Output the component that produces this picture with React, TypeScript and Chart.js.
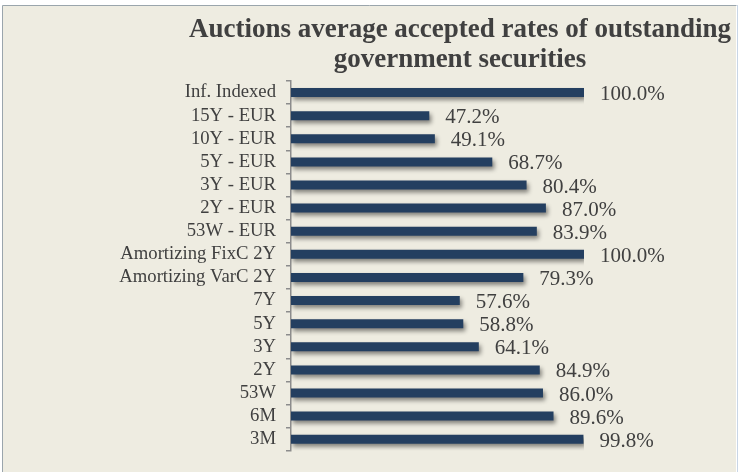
import React, { useEffect, useRef } from "react";
import { Chart, registerables } from "chart.js";

Chart.register(...registerables);

const categories = [
  "Inf. Indexed",
  "15Y - EUR",
  "10Y - EUR",
  "5Y - EUR",
  "3Y - EUR",
  "2Y - EUR",
  "53W - EUR",
  "Amortizing FixC 2Y",
  "Amortizing VarC 2Y",
  "7Y",
  "5Y",
  "3Y",
  "2Y",
  "53W",
  "6M",
  "3M",
];

const rates = [100.0, 47.2, 49.1, 68.7, 80.4, 87.0, 83.9, 100.0, 79.3, 57.6, 58.8, 64.1, 84.9, 86.0, 89.6, 99.8];

const titleLines = ["Auctions average accepted rates of outstanding", "government securities"];

const W = 739;
const H = 472;
const BG = "#EEECE1";
const TEXT = "#404040";
const BAR = "#243F60";

const backgroundPlugin = {
  id: "bgPlugin",
  beforeDraw(chart: any) {
    const ctx = chart.ctx;
    ctx.save();
    ctx.fillStyle = "#FFFFFF";
    ctx.fillRect(0, 0, W, H);
    ctx.fillStyle = BG;
    ctx.fillRect(3, 5, 733, H - 5);
    ctx.strokeStyle = "#9AA5AC";
    ctx.lineWidth = 1;
    ctx.beginPath();
    ctx.moveTo(2.5, H);
    ctx.lineTo(2.5, 5.5);
    ctx.lineTo(736.5, 5.5);
    ctx.stroke();
    ctx.strokeStyle = "#C9D6E6";
    ctx.beginPath();
    ctx.moveTo(737.5, 5);
    ctx.lineTo(737.5, H);
    ctx.stroke();
    ctx.restore();
  },
  afterDraw(chart: any) {
    const ctx = chart.ctx;
    ctx.save();
    ctx.fillStyle = TEXT;
    ctx.font = "bold 27px 'Liberation Serif'";
    ctx.textAlign = "center";
    ctx.textBaseline = "alphabetic";
    ctx.fillText(titleLines[0], 460, 37);
    ctx.fillText(titleLines[1], 460, 67);
    ctx.restore();
  },
};

const shadowLabelPlugin = {
  id: "shadowLabels",
  beforeDatasetsDraw(chart: any) {
    const ctx = chart.ctx;
    ctx.save();
    ctx.shadowColor = "rgba(0,0,0,0.45)";
    ctx.shadowBlur = 4;
    ctx.shadowOffsetX = 2;
    ctx.shadowOffsetY = 3;
  },
  afterDatasetsDraw(chart: any) {
    const ctx = chart.ctx;
    ctx.restore();
    const meta = chart.getDatasetMeta(0);
    ctx.save();
    ctx.fillStyle = TEXT;
    ctx.font = "21px 'Liberation Serif'";
    ctx.textAlign = "left";
    ctx.textBaseline = "alphabetic";
    meta.data.forEach((el: any, i: number) => {
      const v = chart.data.datasets[0].data[i] as number;
      ctx.fillText(v.toFixed(1) + "%", el.x + 16, el.y + 7.5);
    });
    ctx.restore();
  },
};

export default function App() {
  const ref = useRef<HTMLCanvasElement>(null);
  useEffect(() => {
    if (!ref.current) return;
    const chart = new Chart(ref.current, {
      type: "bar",
      data: {
        labels: categories,
        datasets: [
          {
            data: rates,
            backgroundColor: BAR,
            borderWidth: 0,
            categoryPercentage: 1,
            barPercentage: 0.39,
          },
        ],
      },
      options: {
        indexAxis: "y",
        animation: false,
        responsive: false,
        devicePixelRatio: 1,
        layout: { padding: { left: 0, right: W - 584, top: 81, bottom: H - 452 } },
        plugins: {
          legend: { display: false },
          title: { display: false },
          tooltip: { enabled: false },
        },
        scales: {
          x: {
            display: false,
            min: 0,
            max: 100,
          },
          y: {
            afterFit(scale: any) {
              scale.width = 291;
            },
            grid: {
              display: true,
              drawOnChartArea: false,
              drawTicks: true,
              tickLength: 5,
              color: "#8C8C8C",
              lineWidth: 1.5,
              offset: true,
            },
            border: { display: true, color: "#8C8C8C", width: 1.5 },
            ticks: {
              color: TEXT,
              padding: 10,
              font: { family: "'Liberation Serif'", size: 18.7 },
              autoSkip: false,
            },
          },
        },
      },
      plugins: [backgroundPlugin, shadowLabelPlugin],
    });
    return () => chart.destroy();
  }, []);
  return (
    <div style={{ position: "absolute", left: 0, top: 0, width: W, height: H }}>
      <canvas ref={ref} width={W} height={H} style={{ display: "block" }} />
    </div>
  );
}
